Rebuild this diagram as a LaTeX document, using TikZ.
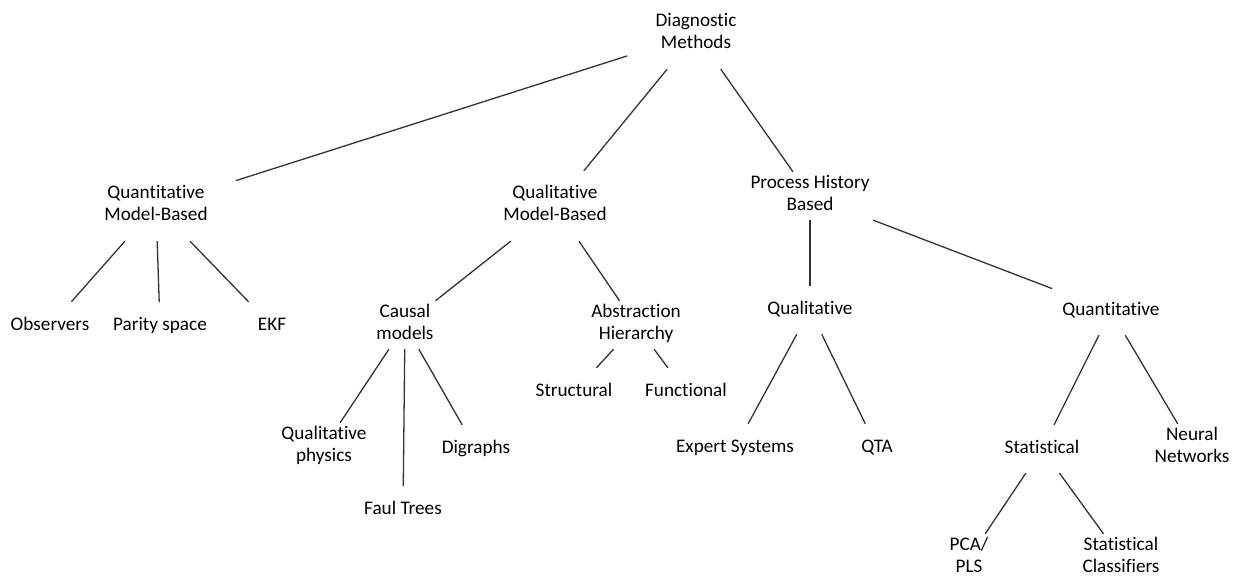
\documentclass[tikz,border=0pt]{standalone}
\usepackage{fontspec}
\setmainfont{Carlito}[Ligatures={NoCommon}]
\usepackage{tikz}

\begin{document}
\begin{tikzpicture}[x=1pt, y=-1pt,
		txt/.style = {align=center, inner xsep=10pt, inner ysep=0pt, minimum height=48pt,
			font=\fontsize{19.2}{22}\selectfont, text=black, yshift=-2pt,
			execute at begin node=\strut, execute at end node=\strut},
		tall/.style = {minimum height=70pt},
		edge/.style = {line width=1.3pt, black!80}]
	\useasboundingbox (0,0) rectangle (1235,576);

	% root and first level
	\node[txt, tall] (diag) at (696,32) {Diagnostic\\Methods};
	\node[txt, tall] (quantmb) at (156,204) {Quantitative\\Model-Based};
	\node[txt, tall] (qualmb) at (555,204) {Qualitative\\Model-Based};
	\node[txt] (history) at (810,194) {Process History\\Based};

	% quantitative model-based
	\node[txt] (observers) at (50,324) {Observers};
	\node[txt] (parity) at (160,324) {Parity space};
	\node[txt] (ekf) at (272,324) {EKF};

	% qualitative model-based
	\node[txt] (causal) at (405,323) {Causal\\models};
	\node[txt] (abstraction) at (636,323) {Abstraction\\Hierarchy};
	\node[txt] (structural) at (574,390) {Structural};
	\node[txt] (functional) at (686,390) {Functional};
	\node[txt] (qphysics) at (324,445) {Qualitative\\physics};
	\node[txt] (digraphs) at (476,447) {Digraphs};
	\node[txt] (faultrees) at (403,508) {Faul Trees};

	% process history based
	\node[txt] (qual) at (810,308) {Qualitative};
	\node[txt] (quant) at (1111,309) {Quantitative};
	\node[txt] (expert) at (735,446) {Expert Systems};
	\node[txt] (qta) at (877,446) {QTA};
	\node[txt] (statistical) at (1042,447) {Statistical};
	\node[txt] (neural) at (1192,446) {Neural\\Networks};
	\node[txt] (pcapls) at (969,556) {PCA/\\PLS};
	\node[txt] (classifiers) at (1121,556) {Statistical\\Classifiers};

	% connectors
	\draw[edge, shorten <=19pt, shorten >=19pt] (diag) -- (quantmb);
	\draw[edge] (diag) -- (qualmb);
	\draw[edge] (diag) -- (history);

	\draw[edge] (quantmb) -- (observers);
	\draw[edge] (quantmb) -- (parity);
	\draw[edge] (quantmb) -- (ekf);

	\draw[edge] (qualmb) -- (causal);
	\draw[edge] (qualmb) -- (abstraction);
	\draw[edge] (abstraction) -- (structural);
	\draw[edge] (abstraction) -- (functional);
	\draw[edge] (causal) -- (qphysics);
	\draw[edge] (causal) -- (faultrees);
	\draw[edge] (causal) -- (digraphs);

	\draw[edge] (history) -- (qual);
	\draw[edge] (history) -- (quant);
	\draw[edge] (qual) -- (expert);
	\draw[edge] (qual) -- (qta);
	\draw[edge] (quant) -- (statistical);
	\draw[edge] (quant) -- (neural);
	\draw[edge] (statistical) -- (pcapls);
	\draw[edge] (statistical) -- (classifiers);
\end{tikzpicture}
\end{document}
